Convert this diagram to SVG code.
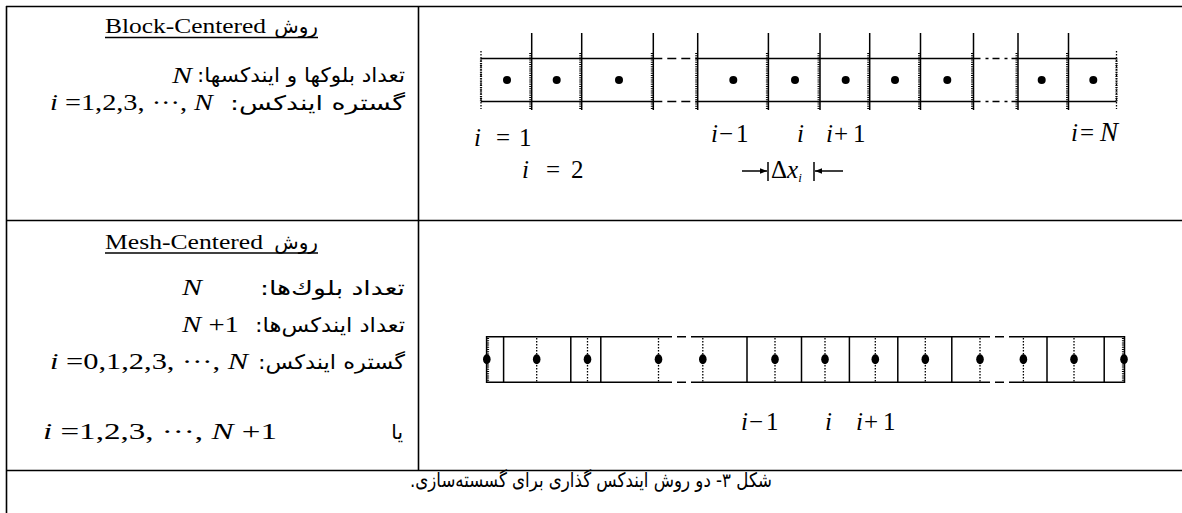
<svg xmlns="http://www.w3.org/2000/svg" width="1182" height="513" viewBox="0 0 1182 513">
<style>
.tb{stroke:#000;stroke-width:1.6;fill:none}
.ln{stroke:#000;stroke-width:1.5;fill:none}
.gap1{stroke:#000;stroke-width:1.5;fill:none;stroke-dasharray:9 5}
.gap2{stroke:#000;stroke-width:1.5;fill:none;stroke-dasharray:7 5 3 4}
.htc{stroke:#000;stroke-width:2.2;fill:none;stroke-dasharray:1 1.2}
.dt{stroke:#000;stroke-width:1.3;fill:none;stroke-dasharray:1.5 1.5}
.fa{font-family:"DejaVu Sans",sans-serif;font-size:20px;fill:#000}
.lat{font-family:"Liberation Serif","Times New Roman",serif;font-size:20px;fill:#000}
.m{font-family:"Liberation Serif","Times New Roman",serif;font-size:24px;fill:#000}
.lb{font-family:"Liberation Serif","Times New Roman",serif;font-size:25px;fill:#000}
.it{font-style:italic}
.bd{fill:#000}
</style>
<defs>
<marker id="ah" viewBox="0 0 10 10" refX="10" refY="5" markerWidth="7" markerHeight="7" markerUnits="userSpaceOnUse" orient="auto"><path d="M0,1 L10,5 L0,9 z" fill="#000"/></marker>
</defs>

<g id="table">
<line class="tb" x1="6" y1="6.5" x2="1182" y2="6.5"/>
<line class="tb" x1="6.5" y1="6" x2="6.5" y2="513"/>
<line class="tb" x1="6" y1="220.5" x2="1182" y2="220.5"/>
<line class="tb" x1="6" y1="470.5" x2="1182" y2="470.5"/>
<line class="tb" x1="418.5" y1="6" x2="418.5" y2="470.5"/>
</g>

<g id="block-text">
<text class="lat" x="105" y="33" textLength="161" lengthAdjust="spacingAndGlyphs">Block-Centered</text>
<text class="fa" x="318" y="33" direction="rtl" text-anchor="start">روش</text>
<line class="ln" x1="105" y1="37.5" x2="318" y2="37.5" stroke-width="1.2"/>
<text class="fa" x="405" y="82" direction="rtl" text-anchor="start" font-size="22" textLength="208" lengthAdjust="spacingAndGlyphs">تعداد بلوکها و ایندکسها:</text>
<text class="m it" x="172" y="82.5" textLength="20" lengthAdjust="spacingAndGlyphs">N</text>
<text class="fa" x="405" y="110" direction="rtl" text-anchor="start" font-size="22" textLength="175" lengthAdjust="spacingAndGlyphs">گستره ایندکس:</text>
<text class="m" x="50" y="110" textLength="163" lengthAdjust="spacingAndGlyphs"><tspan class="it">i</tspan> =1,2,3, ···, <tspan class="it">N</tspan></text>
</g>

<g id="mesh-text">
<text class="lat" x="105" y="248.5" textLength="158" lengthAdjust="spacingAndGlyphs">Mesh-Centered</text>
<text class="fa" x="318" y="248.5" direction="rtl" text-anchor="start">روش</text>
<line class="ln" x1="105" y1="253" x2="318" y2="253" stroke-width="1.2"/>
<text class="fa" x="405" y="294.5" direction="rtl" text-anchor="start" font-size="22" textLength="145" lengthAdjust="spacingAndGlyphs">تعداد بلوك‌ها:</text>
<text class="m it" x="182" y="295" textLength="20" lengthAdjust="spacingAndGlyphs">N</text>
<text class="fa" x="405" y="332" direction="rtl" text-anchor="start" font-size="22" textLength="150" lengthAdjust="spacingAndGlyphs">تعداد ایندکس‌ها:</text>
<text class="m" x="182" y="332" textLength="57" lengthAdjust="spacingAndGlyphs"><tspan class="it">N</tspan> +1</text>
<text class="fa" x="405" y="368.5" direction="rtl" text-anchor="start" font-size="22" textLength="147" lengthAdjust="spacingAndGlyphs">گستره ایندکس:</text>
<text class="m" x="50" y="369" textLength="198" lengthAdjust="spacingAndGlyphs"><tspan class="it">i</tspan> =0,1,2,3, ···, <tspan class="it">N</tspan></text>
<text class="fa" x="403" y="438.5" direction="rtl" text-anchor="start" font-size="22">یا</text>
<text class="m" x="43" y="439" textLength="234" lengthAdjust="spacingAndGlyphs"><tspan class="it">i</tspan> =1,2,3, ···, <tspan class="it">N</tspan> +1</text>
</g>

<g id="block-diagram">
<line class="ln" x1="481" y1="58.5" x2="653.3" y2="58.5"/>
<line class="ln" x1="481" y1="101.5" x2="653.3" y2="101.5"/>
<line class="gap1" x1="653.3" y1="58.5" x2="697.7" y2="58.5"/>
<line class="gap1" x1="653.3" y1="101.5" x2="697.7" y2="101.5"/>
<line class="ln" x1="697.7" y1="58.5" x2="973.5" y2="58.5"/>
<line class="ln" x1="697.7" y1="101.5" x2="973.5" y2="101.5"/>
<line class="gap2" x1="973.5" y1="58.5" x2="1018" y2="58.5"/>
<line class="gap2" x1="973.5" y1="101.5" x2="1018" y2="101.5"/>
<line class="ln" x1="1018" y1="58.5" x2="1116.5" y2="58.5"/>
<line class="ln" x1="1018" y1="101.5" x2="1116.5" y2="101.5"/>
<g id="block-ends">
<line class="htc" x1="481" y1="58.5" x2="481" y2="101.5"/>
<line class="dt" x1="481" y1="51" x2="481" y2="109"/>
<line class="htc" x1="1116.5" y1="58.5" x2="1116.5" y2="101.5"/>
<line class="dt" x1="1116.5" y1="51" x2="1116.5" y2="109"/>
</g>
<g id="block-bounds">
<path class="ln" d="M531.7,33V110M581.7,33V110M653.3,33V110M697.7,33V110M768.4,33V110M820,33V110M869.7,33V110M920.5,33V110M973.5,33V110M1018,33V110M1068.5,33V110"/>
<path class="htc" d="M530.3,53V110M580.3,53V110M651.9,53V110M696.3,53V110M767,53V110M818.6,53V110M868.3,53V110M919.1,53V110M972.1,53V110M1016.6,53V110M1067.1,53V110"/>
</g>
<g id="block-dots" class="bd">
<circle cx="507" cy="80" r="4"/><circle cx="556.7" cy="80" r="4"/><circle cx="619" cy="80" r="4"/>
<circle cx="733.3" cy="80" r="4"/><circle cx="795" cy="80" r="4"/><circle cx="845.7" cy="80" r="4"/>
<circle cx="895" cy="80" r="4"/><circle cx="947.3" cy="80" r="4"/><circle cx="1041.7" cy="80" r="4"/>
<circle cx="1093.3" cy="80" r="4"/>
</g>
<g id="block-labels">
<text class="lb" y="146"><tspan class="it" x="474">i</tspan><tspan x="496">=</tspan><tspan x="519">1</tspan></text>
<text class="lb" y="178"><tspan class="it" x="522">i</tspan><tspan x="546">=</tspan><tspan x="571">2</tspan></text>
<text class="lb" y="142"><tspan class="it" x="711">i</tspan><tspan x="719">−</tspan><tspan x="736">1</tspan></text>
<text class="lb it" x="797" y="142">i</text>
<text class="lb" y="142"><tspan class="it" x="826">i</tspan><tspan x="834">+</tspan><tspan x="853">1</tspan></text>
<text class="lb" y="141"><tspan class="it" x="1071">i</tspan><tspan x="1080">=</tspan><tspan class="it" x="1100" font-size="27">N</tspan></text>
</g>
<g id="dx">
<line class="ln" x1="742" y1="171" x2="767" y2="171" marker-end="url(#ah)"/>
<line class="ln" x1="768" y1="162" x2="768" y2="181"/>
<text class="lb" x="771" y="178" font-size="22">Δ<tspan class="it">x</tspan><tspan class="it" font-size="13" dy="4">i</tspan></text>
<line class="ln" x1="814" y1="162" x2="814" y2="181"/>
<line class="ln" x1="843" y1="171" x2="815" y2="171" marker-end="url(#ah)"/>
</g>
</g>

<g id="mesh-diagram">
<line class="ln" x1="486.6" y1="336.7" x2="663" y2="336.7"/>
<line class="ln" x1="486.6" y1="382.3" x2="663" y2="382.3"/>
<line class="gap1" x1="663" y1="336.7" x2="698" y2="336.7" stroke-dasharray="8 4 3 4"/>
<line class="gap1" x1="663" y1="382.3" x2="698" y2="382.3" stroke-dasharray="3 4 8 4"/>
<line class="ln" x1="698" y1="336.7" x2="981" y2="336.7"/>
<line class="ln" x1="698" y1="382.3" x2="981" y2="382.3"/>
<line class="gap1" x1="981" y1="336.7" x2="1017" y2="336.7" stroke-dasharray="0 4 8 5 8 11"/>
<line class="gap1" x1="981" y1="382.3" x2="1017" y2="382.3" stroke-dasharray="0 4 8 5 8 11"/>
<line class="ln" x1="1017" y1="336.7" x2="1124.5" y2="336.7"/>
<line class="ln" x1="1017" y1="382.3" x2="1124.5" y2="382.3"/>
<path class="ln" d="M486.6,336V383M1124.5,336V383"/>
<path class="htc" d="M488,338V381M1123,338V381"/>
<path class="ln" d="M503.6,336.7V382.3M570.8,336.7V382.3M600.8,336.7V382.3M747,336.7V382.3M801.5,336.7V382.3M849.4,336.7V382.3M897.8,336.7V382.3M951.8,336.7V382.3M1047,336.7V382.3M1104.2,336.7V382.3"/>
<path class="dt" d="M536.7,338V382M587.5,338V382M658.5,338V382M702.8,338V382M775,338V382M825,338V382M875.3,338V382M925.3,338V382M980,338V382M1023.4,338V382M1074,338V382"/>
<g id="mesh-dots" class="bd">
<ellipse cx="486.8" cy="359.3" rx="3.8" ry="5"/><ellipse cx="536.7" cy="359.3" rx="3.8" ry="5"/><ellipse cx="587.5" cy="359.3" rx="3.8" ry="5"/>
<ellipse cx="658.5" cy="359.3" rx="3.8" ry="5"/><ellipse cx="702.8" cy="359.3" rx="3.8" ry="5"/><ellipse cx="775" cy="359.3" rx="3.8" ry="5"/>
<ellipse cx="825" cy="359.3" rx="3.8" ry="5"/><ellipse cx="875.3" cy="359.3" rx="3.8" ry="5"/><ellipse cx="925.3" cy="359.3" rx="3.8" ry="5"/>
<ellipse cx="980" cy="359.3" rx="3.8" ry="5"/><ellipse cx="1023.4" cy="359.3" rx="3.8" ry="5"/><ellipse cx="1074" cy="359.3" rx="3.8" ry="5"/>
<ellipse cx="1124" cy="359.3" rx="3.8" ry="5"/>
</g>
<g id="mesh-labels">
<text class="lb" y="430"><tspan class="it" x="741">i</tspan><tspan x="749">−</tspan><tspan x="766">1</tspan></text>
<text class="lb it" x="825" y="430">i</text>
<text class="lb" y="430"><tspan class="it" x="856">i</tspan><tspan x="864">+</tspan><tspan x="883">1</tspan></text>
</g>
</g>

<g id="caption">
<text class="fa" x="591" y="487" direction="rtl" text-anchor="middle" font-size="17" textLength="362" lengthAdjust="spacingAndGlyphs">شکل ۳- دو روش ایندکس گذاری برای گسسته‌سازی.</text>
</g>
</svg>
